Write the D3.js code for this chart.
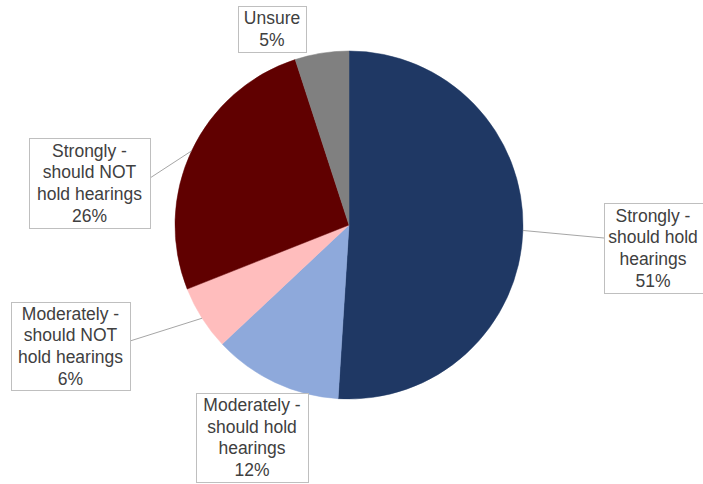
<!DOCTYPE html>
<html><head><meta charset="utf-8">
<script src="https://cdn.jsdelivr.net/npm/d3@7"></script>
<style>html,body{margin:0;padding:0;background:#fff;overflow:hidden}</style>
</head><body>
<svg id="c" width="703" height="484"></svg>
<script>
const categories = ["Strongly - should hold hearings","Moderately - should hold hearings","Moderately - should NOT hold hearings","Strongly - should NOT hold hearings","Unsure"];
const labelLines = [["Strongly -","should hold","hearings"],["Moderately -","should hold","hearings"],["Moderately -","should NOT","hold hearings"],["Strongly -","should NOT","hold hearings"],["Unsure"]];
const values = [51,12,6,26,5];
const colors = ["#1F3864","#8EA9DB","#FFBDBD","#600000","#808080"];

const svg = d3.select("#c");
const cx = 349, cy = 225, R = 174;
const g = svg.append("g").attr("transform",`translate(${cx},${cy})`);
const pie = d3.pie().sort(null).value(d=>d)(values);
const arc = d3.arc().innerRadius(0).outerRadius(R);
const color = d3.scaleOrdinal().domain(categories).range(colors);

g.selectAll("path").data(pie).join("path")
  .attr("d",arc).attr("fill",(d,i)=>color(categories[i]))
  .attr("stroke",(d,i)=>color(categories[i])).attr("stroke-width",0.5);

// label boxes: [x, y, w, h] layout
const boxes = [[604,203,104,90],[196,393,112,89],[11,302,119,88],[29,138,121,90],[238,6,68,46]];
const leaders = [true,false,true,true,false];
const lh = 21.6;

pie.forEach((p,i)=>{
  const [bx,by,bw,bh] = boxes[i];
  const a = (p.startAngle+p.endAngle)/2;
  const px = cx + R*Math.sin(a), py = cy - R*Math.cos(a);
  if (leaders[i]) {
    const ex = (px > bx + bw/2) ? bx + bw : bx;
    const ey = by + bh/2 - 5 + (i===0?-5:0);
    svg.append("line").attr("x1",px).attr("y1",py).attr("x2",ex).attr("y2",ey)
      .attr("stroke","#a6a6a6").attr("stroke-width",1);
  }
  svg.append("rect").attr("x",bx+0.5).attr("y",by+0.5).attr("width",bw).attr("height",bh)
    .attr("fill","#fff").attr("stroke","#bfbfbf").attr("stroke-width",1);
  const lines = labelLines[i].concat([values[i]+"%"]);
  const tx = bx + bw/2 + (i===0 ? -3 : 0);
  const t0 = by + bh/2 - (lines.length-1)*lh/2;
  const txt = svg.append("text").attr("font-family","'Liberation Sans',Arial,sans-serif")
    .attr("font-size",17.5).attr("fill","#404040").attr("text-anchor","middle");
  lines.forEach((l,k)=>{
    txt.append("tspan").attr("x",tx).attr("y",t0+k*lh).attr("dy","0.35em").text(l);
  });
});
</script>
</body></html>
